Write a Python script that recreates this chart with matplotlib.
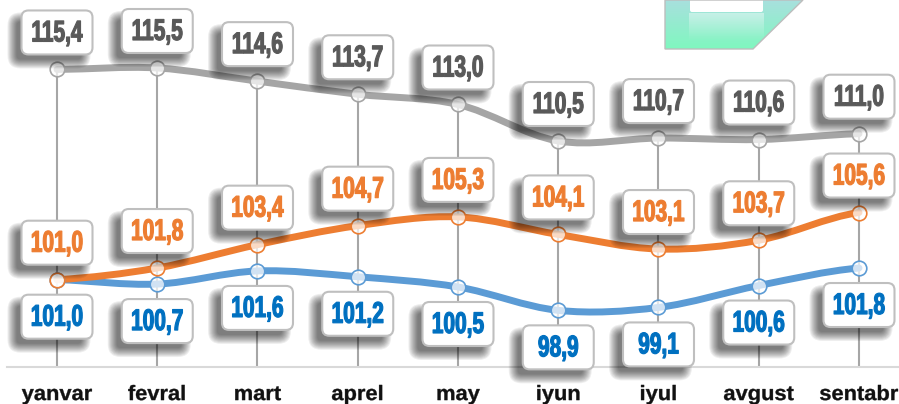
import numpy as np
import matplotlib
matplotlib.use("Agg")
import matplotlib.pyplot as plt
from matplotlib.patches import FancyBboxPatch, Polygon
from matplotlib.path import Path
from matplotlib.patches import PathPatch
from matplotlib.transforms import Affine2D
import matplotlib.patheffects as pe

months = ["yanvar", "fevral", "mart", "aprel", "may", "iyun", "iyul", "avgust", "sentabr"]
gray_values = [115.4, 115.5, 114.6, 113.7, 113.0, 110.5, 110.7, 110.6, 111.0]
orange_values = [101.0, 101.8, 103.4, 104.7, 105.3, 104.1, 103.1, 103.7, 105.6]
blue_values = [101.0, 100.7, 101.6, 101.2, 100.5, 98.9, 99.1, 100.6, 101.8]

W, H = 899, 404
BASE_PX = 367
fig = plt.figure(figsize=(W / 100, H / 100), dpi=100, facecolor="white")


class Stretch(pe.AbstractPathEffect):
    """Draw real text stretched horizontally around an anchor, with a stroke."""

    def __init__(self, anchor_x, sx, color, stroke_px):
        super().__init__()
        self.anchor_x, self.sx, self.color, self.stroke_px = anchor_x, sx, color, stroke_px

    def draw_path(self, renderer, gc, tpath, affine, rgbFace=None):
        tr = affine + Affine2D().translate(-self.anchor_x, 0).scale(self.sx, 1).translate(self.anchor_x, 0)
        gc0 = renderer.new_gc()
        gc0.copy_properties(gc)
        gc0.set_linewidth(self.stroke_px * 72 / 100)
        gc0.set_foreground(self.color)
        gc0.set_joinstyle("round")
        renderer.draw_path(gc0, tpath, tr, rgbFace)
        gc0.restore()


# decorative background shape, in pixel coordinates
bg = fig.add_axes([0, 0, 1, 1], zorder=-1)
bg.axis("off")
grad = np.linspace(0, 1, 64)[:, None]
c0 = np.array([0.66, 0.88, 0.87])
c1 = np.array([0.50, 0.97, 0.75])
img = (c0[None, None, :] * (1 - grad[..., None]) + c1[None, None, :] * grad[..., None])
im = bg.imshow(img, extent=(665, 804, 49, 0), aspect="auto", zorder=1)
poly = Polygon([(665, 0), (665, 49), (753, 49), (803, 0)], closed=True,
               facecolor="none", edgecolor="#bdbdbd", lw=1.0, zorder=3)
bg.add_patch(poly)
im.set_clip_path(poly)
g2 = np.linspace(0, 1, 32)[:, None, None]
soft = np.concatenate([np.ones((32, 1, 3)), (0.42 * (1 - g2) + 0.02 * g2)], axis=2)
bg.imshow(soft, extent=(689, 764, 40, 13), aspect="auto", zorder=2)
bg.add_patch(FancyBboxPatch((690, -8), 73, 20, boxstyle="round,pad=0,rounding_size=2",
                            facecolor="white", edgecolor="none", zorder=2.5))
bg.set_xlim(0, W)
bg.set_ylim(H, 0)

# main axes: bottom spine is the baseline
ax = fig.add_axes([0, (H - BASE_PX) / H, 1, BASE_PX / H])
ax.patch.set_visible(False)
PX_PER_X = 100.25
PX_PER_Y = 14.6
ax.set_xlim(-57 / PX_PER_X, (W - 57) / PX_PER_X)
ax.set_ylim(95.02, 115.5 + 68 / PX_PER_Y)
for s in ("top", "left", "right"):
    ax.spines[s].set_visible(False)
ax.spines["bottom"].set_color("#d9d9d9")
ax.spines["bottom"].set_linewidth(1.5)
ax.spines["bottom"].set_bounds(-50 / PX_PER_X, (W - 57) / PX_PER_X)
ax.set_yticks([])
x = np.arange(len(months))
ax.set_xticks(x, months, fontsize=15, fontweight="bold", family="Liberation Sans", color="#111111")
ax.tick_params(axis="x", length=0, pad=13)
for i, lab in enumerate(ax.get_xticklabels()):
    lab.set_path_effects([Stretch(ax.transData.transform((i, 100))[0], 1.05, "#111111", 0.35)])

ax.vlines(x, 95.02, gray_values, color="#a6a6a6", lw=1.5, zorder=1)


def smooth(xs, ys):
    """Catmull-Rom style Bezier through the data points."""
    verts = [(xs[0], ys[0])]
    codes = [Path.MOVETO]
    n = len(xs)
    for i in range(n - 1):
        y0 = ys[max(i - 1, 0)]
        y3 = ys[min(i + 2, n - 1)]
        verts += [(xs[i] + 1 / 3, ys[i] + (ys[i + 1] - y0) / 6),
                  (xs[i + 1] - 1 / 3, ys[i + 1] - (y3 - ys[i]) / 6),
                  (xs[i + 1], ys[i + 1])]
        codes += [Path.CURVE4] * 3
    return Path(verts, codes)


series = [
    (gray_values, "#a5a5a5", "#595959", -37),
    (blue_values, "#5b9bd5", "#0070c0", 37),
    (orange_values, "#ed7d31", "#ed7d31", -37),
]

for vals, col, _, _ in series:
    ax.add_patch(PathPatch(smooth(x, vals), facecolor="none", edgecolor=col, lw=5,
                           capstyle="round", zorder=3))
    ax.plot(x, vals, ls="none", marker="o", ms=10.5, mfc=(1, 1, 1, 0.72), mec=col, mew=1.2, zorder=4)

BOX_W, BOX_H, R = 71, 44, 7
SH_DX, SH_DY = -8, -8  # display pixels (y up)

for vals, col, tcol, off in series:
    for i, v in enumerate(vals):
        px, py = ax.transData.transform((i, v))
        cy = py - off
        tr = Affine2D().translate(px, cy)
        # soft shadow: stacked translucent boxes
        for k, grow in enumerate(np.linspace(6, -3, 10)):
            ax.add_patch(FancyBboxPatch(
                (-BOX_W / 2 + SH_DX - grow, -BOX_H / 2 + SH_DY - grow),
                BOX_W + 2 * grow, BOX_H + 2 * grow,
                boxstyle=f"round,pad=0,rounding_size={max(R + grow, 1)}",
                facecolor="black", edgecolor="none", alpha=0.065,
                transform=tr, zorder=5, clip_on=False))
        ax.add_patch(FancyBboxPatch(
            (-BOX_W / 2, -BOX_H / 2), BOX_W, BOX_H,
            boxstyle=f"round,pad=0,rounding_size={R}",
            facecolor="white", edgecolor="#bfbfbf", lw=1.5,
            transform=tr, zorder=6, clip_on=False))
        ax.annotate(f"{v:.1f}".replace(".", ","), xy=(i, v), xytext=(0, -off - 1),
                    textcoords="offset pixels", ha="center", va="center",
                    fontsize=21.5, fontweight="bold", family="Liberation Sans",
                    color=tcol, zorder=7,
                    path_effects=[Stretch(px, 0.7, tcol, 1.2)])

fig.savefig("out.png", dpi=100)
